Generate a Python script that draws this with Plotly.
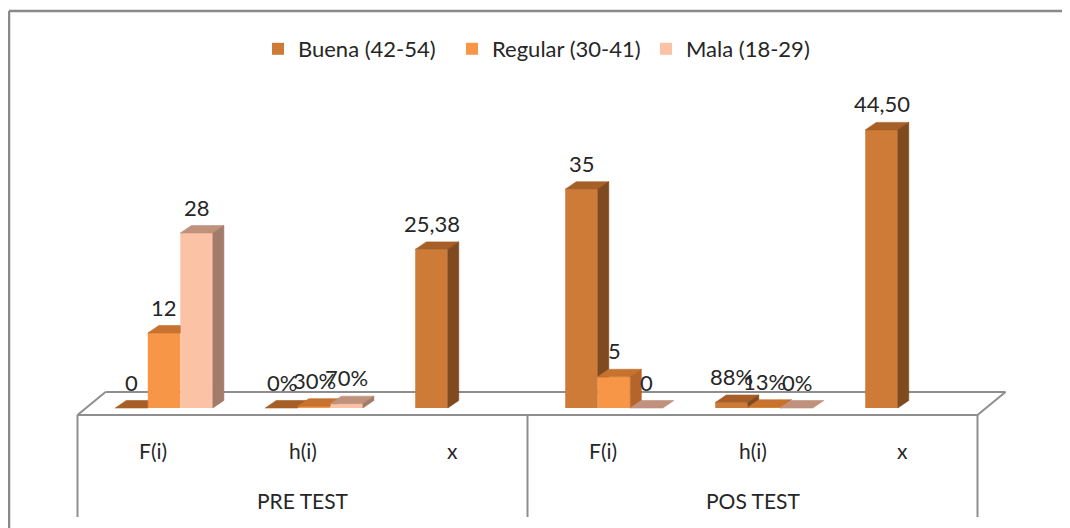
import plotly.graph_objects as go

# ---------------- data ----------------
categories = ["F(i)", "h(i)", "x", "F(i)", "h(i)", "x"]
groups = ["PRE TEST", "POS TEST"]
label_kind = ["count", "pct", "mean", "count", "pct", "mean"]
series_names = ["Buena (42-54)", "Regular (30-41)", "Mala (18-29)"]
buena = [0, 0.0, 25.38, 35, 0.875, 44.50]
regular = [12, 0.30, None, 5, 0.125, None]
mala = [28, 0.70, None, 0, 0.0, None]
series_values = [buena, regular, mala]

# ---------------- style ----------------
front_colors = ["#CD7B37", "#F79646", "#FBC2A5"]
top_colors = ["#A65F27", "#C8722F", "#C0917C"]
side_colors = ["#7F4A1F", "#B4652A", "#A37B6A"]
FONT = "Lato"
TXT = "#262626"
GRID = "#8E8E8E"

W_PX, H_PX = 1070, 528
PAGE_OFF = 8           # browser body margin
PXU_X = 150.0          # px per x unit
PXU_Y = 6.25           # px per y unit
X0_PX = 152.5          # page px of category 0 centre
Y0_PX = 408.0          # page px of value 0
XR = [-0.55, 5.75]
YR = [-1.5, 60]

BW = 0.217             # bar width (x units)
SHIFT = 0.077
OFF0 = SHIFT - 1.5 * BW
DX = 11 / PXU_X        # 3D depth offsets
DY = 7.5 / PXU_Y
FLOOR_FRONT = -7 / PXU_Y
FLOOR_BACK = (Y0_PX - 392) / PXU_Y
FDX = 28 / PXU_X


def px_x(u):
    return X0_PX + u * PXU_X


def py(v):
    return Y0_PX - v * PXU_Y


def paper_x(pix):
    return (pix - PAGE_OFF) / W_PX


def paper_y(pix):
    return (H_PX - (pix - PAGE_OFF)) / H_PX


def fmt(v, kind):
    if kind == "count":
        return f"{v:.0f}"
    if kind == "pct":
        return f"{int(v * 100 + 0.5)}%"
    return f"{v:.2f}".replace(".", ",")


def clip(poly, f):
    """clip polygon against half plane f(p) >= 0 (f linear)"""
    out = []
    n = len(poly)
    for i in range(n):
        a, b = poly[i], poly[(i + 1) % n]
        fa, fb = f(a), f(b)
        if fa >= 0:
            out.append(a)
        if (fa >= 0) != (fb >= 0):
            t = fa / (fa - fb)
            out.append((a[0] + t * (b[0] - a[0]), a[1] + t * (b[1] - a[1])))
    return out


fig = go.Figure()

# front faces as real bars
for k, (name, vals) in enumerate(zip(series_names, series_values)):
    fig.add_trace(go.Bar(
        x=list(range(len(categories))), y=vals, name=name,
        offset=OFF0 + k * BW, width=BW,
        marker=dict(color=front_colors[k], line=dict(width=0)),
        hoverinfo="skip",
    ))

# 3D top / side faces derived from the data
for k, vals in enumerate(series_values):
    tops, sides = [], []
    for i, v in enumerate(vals):
        if v is None:
            continue
        xl = i + OFF0 + k * BW
        xr = xl + BW
        vn = series_values[k + 1][i] if k < 2 else None
        top = [(xl, v), (xr, v), (xr + DX, v + DY), (xl + DX, v + DY)]
        side = [(xr, 0), (xr + DX, DY), (xr + DX, v + DY), (xr, v)]
        if vn is not None:
            tvis = [clip(top, lambda p: xr - p[0]),
                    clip(clip(top, lambda p: p[0] - xr), lambda p: p[1] - vn)]
            svis = [clip(side, lambda p: p[1] - vn)]
        else:
            tvis, svis = [top], [side]
        tops += [p for p in tvis if len(p) >= 3]
        sides += [p for p in svis if len(p) >= 3 and v > 0]
    for polys, col in ((tops, top_colors[k]), (sides, side_colors[k])):
        xs, ys = [], []
        for p in polys:
            xs += [q[0] for q in p] + [p[0][0], None]
            ys += [q[1] for q in p] + [p[0][1], None]
        fig.add_trace(go.Scatter(
            x=xs, y=ys, mode="lines", fill="toself", fillcolor=col,
            line=dict(color=col, width=0.6), showlegend=False, hoverinfo="skip",
        ))

# data labels
annotations = []
for k, vals in enumerate(series_values):
    for i, v in enumerate(vals):
        if v is None:
            continue
        xc = i + OFF0 + k * BW + BW / 2
        annotations.append(dict(
            x=xc, y=v, xref="x", yref="y", text=fmt(v, label_kind[i]),
            showarrow=False, yanchor="middle", yshift=26,
            font=dict(family=FONT, size=22, color=TXT),
        ))

# category and group labels
for i, c in enumerate(categories):
    annotations.append(dict(
        x=i, y=paper_y(450), xref="x", yref="paper", text=c, showarrow=False,
        yanchor="middle", font=dict(family=FONT, size=21, color=TXT)))
for g, name in enumerate(groups):
    annotations.append(dict(
        x=1 + 3 * g, y=paper_y(500), xref="x", yref="paper", text=name,
        showarrow=False, yanchor="middle",
        font=dict(family=FONT, size=21, color=TXT)))

shapes = []
line = dict(color=GRID, width=2)
# floor outline
shapes += [
    dict(type="line", xref="x", yref="y", x0=-0.5, x1=5.5, y0=FLOOR_FRONT, y1=FLOOR_FRONT, line=line, layer="below"),
    dict(type="line", xref="x", yref="y", x0=-0.5 + FDX, x1=5.5 + FDX, y0=FLOOR_BACK, y1=FLOOR_BACK, line=line, layer="below"),
    dict(type="line", xref="x", yref="y", x0=-0.5, x1=-0.5 + FDX, y0=FLOOR_FRONT, y1=FLOOR_BACK, line=line, layer="below"),
    dict(type="line", xref="x", yref="y", x0=5.5, x1=5.5 + FDX, y0=FLOOR_FRONT, y1=FLOOR_BACK, line=line, layer="below"),
]
# category-axis dividers
for xv in (-0.5, 2.5, 5.5):
    shapes.append(dict(type="line", xref="x", yref="paper", x0=xv, x1=xv,
                       y0=paper_y(517), y1=paper_y(py(FLOOR_FRONT)), line=line))
# chart frame (left and top edges)
frame = dict(color="#898989", width=2.5)
shapes += [
    dict(type="line", xref="paper", yref="paper", x0=paper_x(9), x1=1.05,
         y0=paper_y(11), y1=paper_y(11), line=frame),
    dict(type="line", xref="paper", yref="paper", x0=paper_x(9), x1=paper_x(9),
         y0=paper_y(11), y1=-0.05, line=frame),
]

fig.update_layout(
    width=W_PX, height=H_PX,
    margin=dict(l=0, r=0, t=0, b=0),
    paper_bgcolor="white", plot_bgcolor="rgba(0,0,0,0)",
    barmode="overlay",
    xaxis=dict(range=XR, visible=False, fixedrange=True,
               domain=[paper_x(px_x(XR[0])), paper_x(px_x(XR[1]))]),
    yaxis=dict(range=YR, visible=False, fixedrange=True,
               domain=[paper_y(py(YR[0])), paper_y(py(YR[1]))]),
    legend=dict(orientation="h", x=paper_x(258), xanchor="left", y=paper_y(49),
                yanchor="middle", font=dict(family=FONT, size=22, color=TXT),
                entrywidth=149, entrywidthmode="pixels",
                bgcolor="rgba(0,0,0,0)"),
    annotations=annotations,
    shapes=shapes,
    showlegend=True,
    font=dict(family=FONT, color=TXT),
)

fig.write_html("out.html")
